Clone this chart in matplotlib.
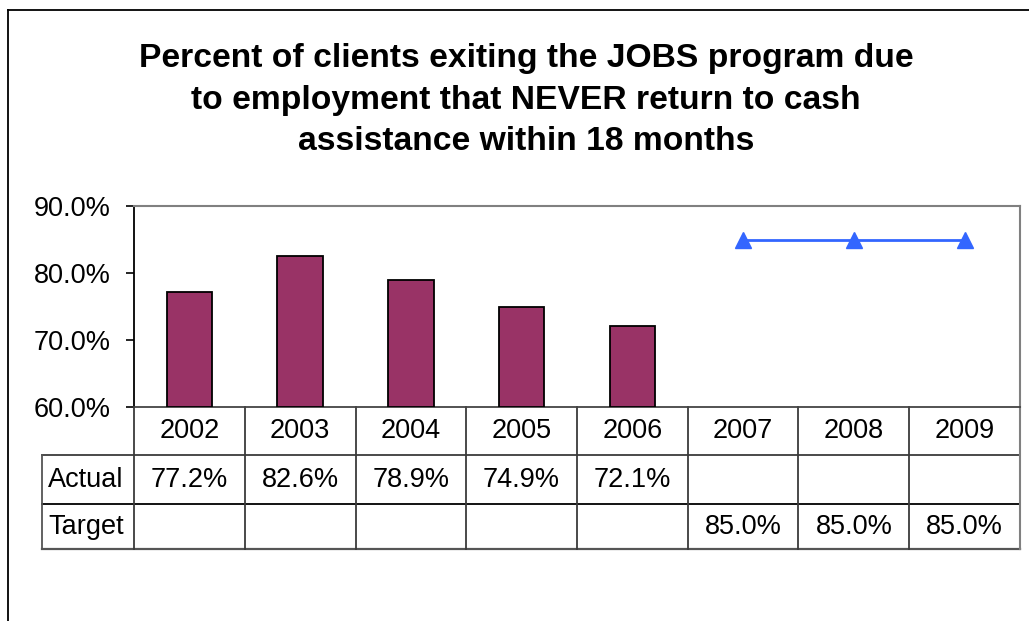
import numpy as np
import matplotlib
matplotlib.use("Agg")
import matplotlib.pyplot as plt
from matplotlib.lines import Line2D
from matplotlib.transforms import blended_transform_factory

years = ["2002", "2003", "2004", "2005", "2006", "2007", "2008", "2009"]
actual = [77.2, 82.6, 78.9, 74.9, 72.1, None, None, None]
target = [None, None, None, None, None, 85.0, 85.0, 85.0]
row_labels = ["Actual", "Target"]
title = ("Percent of clients exiting the JOBS program due\n"
         "to employment that NEVER return to cash\n"
         "assistance within 18 months")

plt.rcParams["font.family"] = ["Liberation Sans", "DejaVu Sans"]

W, H = 1029, 621
fig = plt.figure(figsize=(W / 100, H / 100), dpi=100)

# plot area in pixel terms
left, right, top, bottom = 134, 1020, 206, 407
ax = fig.add_axes([left / W, 1 - bottom / H, (right - left) / W, (bottom - top) / H])

x = np.arange(len(years))
act = np.array([np.nan if v is None else v for v in actual])
tgt = np.array([np.nan if v is None else v for v in target])

has_act = ~np.isnan(act)
ax.bar(x[has_act], act[has_act] - 60, bottom=60, width=0.41,
       color="#993366", edgecolor="black", linewidth=1.3, zorder=3)
ax.plot(x, tgt, color="#3366FF", linewidth=2, marker="^", markersize=11,
        markeredgecolor="#3366FF", zorder=4, clip_on=False)

ax.set_xlim(-0.5, len(years) - 0.5)
ax.set_ylim(60, 90)
ax.set_yticks([60, 70, 80, 90])
ax.set_yticklabels([f"{v:.1f}%" for v in [60, 70, 80, 90]], fontsize=19.5)
ax.set_xticks([])
ax.tick_params(axis="y", length=6, width=1.2, pad=11, color="black")
for s in ["top", "right"]:
    ax.spines[s].set_color("#808080")
    ax.spines[s].set_linewidth(1.5)
ax.spines["left"].set_color("black")
ax.spines["left"].set_linewidth(1.3)
ax.spines["bottom"].set_color("#444444")
ax.spines["bottom"].set_linewidth(1.3)

# data table below the plot area
tr = blended_transform_factory(ax.transData, ax.transAxes)
ph = bottom - top
def fy(py):
    return (bottom - py) / ph

row_edges = [fy(407), fy(455), fy(504), fy(549)]
label_left = -0.5 - (left - 42) / ((right - left) / len(years))
lc = "#3a3a3a"
lw = 1.3

# horizontal rules
ax.add_line(Line2D([label_left, len(years) - 0.5], [row_edges[1]] * 2,
                   transform=tr, color=lc, lw=lw, clip_on=False))
ax.add_line(Line2D([label_left, len(years) - 0.5], [row_edges[2]] * 2,
                   transform=tr, color="black", lw=lw, clip_on=False))
ax.add_line(Line2D([label_left, len(years) - 0.5], [row_edges[3]] * 2,
                   transform=tr, color="#555555", lw=1.6, clip_on=False))
# vertical rules
ax.add_line(Line2D([label_left] * 2, [row_edges[1], row_edges[3]],
                   transform=tr, color="#555555", lw=lw, clip_on=False))
for i in range(len(years) + 1):
    xv = i - 0.5
    ax.add_line(Line2D([xv, xv], [row_edges[0], row_edges[3]], transform=tr,
                       color="#808080" if i == len(years) else lc,
                       lw=1.5 if i == len(years) else lw, clip_on=False))

fs = 19.5
for i, yr in enumerate(years):
    ax.text(i, (row_edges[0] + row_edges[1]) / 2, yr, transform=tr,
            ha="center", va="center", fontsize=fs)
    for r, series in enumerate([act, tgt]):
        v = series[i]
        if not np.isnan(v):
            ax.text(i, (row_edges[r + 1] + row_edges[r + 2]) / 2, f"{v:.1f}%",
                    transform=tr, ha="center", va="center", fontsize=fs)
for r, lab in enumerate(row_labels):
    ax.text(label_left + 0.055, (row_edges[r + 1] + row_edges[r + 2]) / 2, lab,
            transform=tr, ha="left", va="center", fontsize=fs)

# title
fig.text(526 / W, 1 - 100 / H, title, ha="center", va="center",
         fontsize=24.2, fontweight="bold", linespacing=1.43)

# chart-area frame (top and left edges)
fig.add_artist(Line2D([8 / W, 1], [1 - 10 / H] * 2, transform=fig.transFigure,
                      color="black", lw=1.3))
fig.add_artist(Line2D([8 / W] * 2, [0, 1 - 10 / H], transform=fig.transFigure,
                      color="black", lw=1.3))

fig.savefig("out.png", dpi=100)
